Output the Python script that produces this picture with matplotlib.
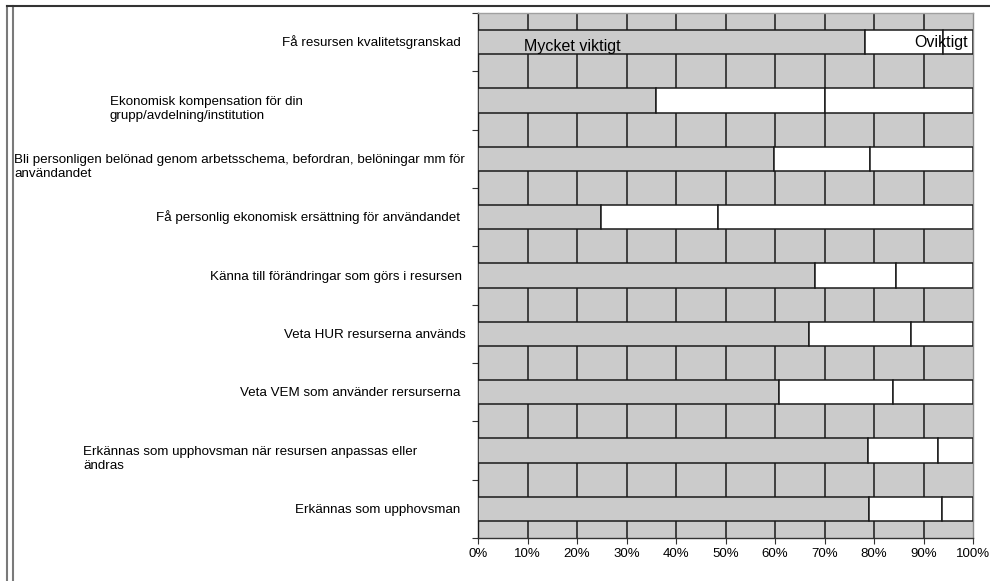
import matplotlib
matplotlib.use("Agg")
import matplotlib.pyplot as plt
import matplotlib.transforms as mtransforms
from matplotlib.lines import Line2D
import numpy as np

plt.rcParams['font.family'] = ['Liberation Sans', 'DejaVu Sans']

categories = [
    "Få resursen kvalitetsgranskad",
    "Ekonomisk kompensation för din\ngrupp/avdelning/institution",
    "Bli personligen belönad genom arbetsschema, befordran, belöningar mm för\nanvändandet",
    "Få personlig ekonomisk ersättning för användandet",
    "Känna till förändringar som görs i resursen",
    "Veta HUR resurserna används",
    "Veta VEM som använder rersurserna",
    "Erkännas som upphovsman när resursen anpassas eller\nändras",
    "Erkännas som upphovsman",
]
series_names = ["Mycket viktigt", "", "Oviktigt"]
mycket_viktigt = [78.2, 35.9, 59.8, 24.8, 68.1, 66.8, 60.9, 78.7, 79.0]
mellan = [15.7, 34.1, 19.4, 23.7, 16.3, 20.7, 23.0, 14.2, 14.8]
oviktigt = [6.1, 30.0, 20.8, 51.5, 15.6, 12.5, 16.1, 7.1, 6.2]

# label anchor in figure pixels: (x, horizontal alignment)
label_anchor = [(461, 'right'), (110, 'left'), (14, 'left'), (460, 'right'),
                (462, 'right'), (466, 'right'), (460, 'right'), (83, 'left'),
                (460, 'right')]

W, H = 990, 581
fig = plt.figure(figsize=(W / 100, H / 100), dpi=100)
ax = fig.add_axes([478 / W, 1 - 538 / H, (973 - 478) / W, (538 - 13) / H])

bg = '#cbcbcb'
ax.set_facecolor(bg)
y = np.arange(len(categories))
bar_h = 0.42
row_px = (538 - 13) / len(categories)

ax.set_xlim(0, 100)
ax.set_ylim(len(categories) - 0.5, -0.5)
for gx in range(10, 100, 10):
    ax.axvline(gx, color='#1a1a1a', lw=1.1, zorder=1)

left = np.zeros(len(categories))
for vals, fc in [(mycket_viktigt, bg), (mellan, 'white'), (oviktigt, 'white')]:
    ax.barh(y, vals, left=left, height=bar_h, color=fc, edgecolor='#1a1a1a',
            linewidth=1.1, zorder=3)
    left += np.array(vals)

ax.text(9.3, 0.07, series_names[0], fontsize=11.5, va='center', ha='left', zorder=4)
ax.text(99.0, 0.0, series_names[2], fontsize=11.5, va='center', ha='right', zorder=4)

ax.set_xticks(np.arange(0, 101, 10))
ax.set_xticklabels([f"{v}%" for v in range(0, 101, 10)], fontsize=9.5)
ax.set_yticks(np.arange(-0.5, len(categories), 1.0))
ax.set_yticklabels([])
ax.tick_params(axis='both', direction='out', length=4, width=0.8, color='#333333')
ax.tick_params(axis='x', pad=3)

ax.spines['left'].set_color('#1a1a1a')
ax.spines['bottom'].set_color('#333333')
ax.spines['right'].set_color('#8c8c8c')
ax.spines['top'].set_color('#a0a0a0')
for s in ax.spines.values():
    s.set_linewidth(1.0)

# category labels: first line sits on the bar, further lines go below it
trans = mtransforms.blended_transform_factory(fig.transFigure, ax.transData)
line_px = 14.5
for i, (lab, (px, ha)) in enumerate(zip(categories, label_anchor)):
    lines = lab.split("\n")
    x0 = px / W
    if ha == 'right' and len(lines) > 1:
        ha = 'left'
    for k, line in enumerate(lines):
        ax.text(x0, i + (4 + k * line_px) / row_px, line, transform=trans,
                ha=ha, va='baseline', fontsize=9.6)

# frame lines around the chart
fig.add_artist(Line2D([7 / W, 7 / W], [0, 1 - 6 / H], color='#7a7a7a', lw=1.5))
fig.add_artist(Line2D([12.5 / W, 12.5 / W], [0, 1 - 6 / H], color='#7a7a7a', lw=1.5))
fig.add_artist(Line2D([7 / W, 1], [1 - 6 / H, 1 - 6 / H], color='#333333', lw=1.5))

fig.savefig('out.png', dpi=100)
